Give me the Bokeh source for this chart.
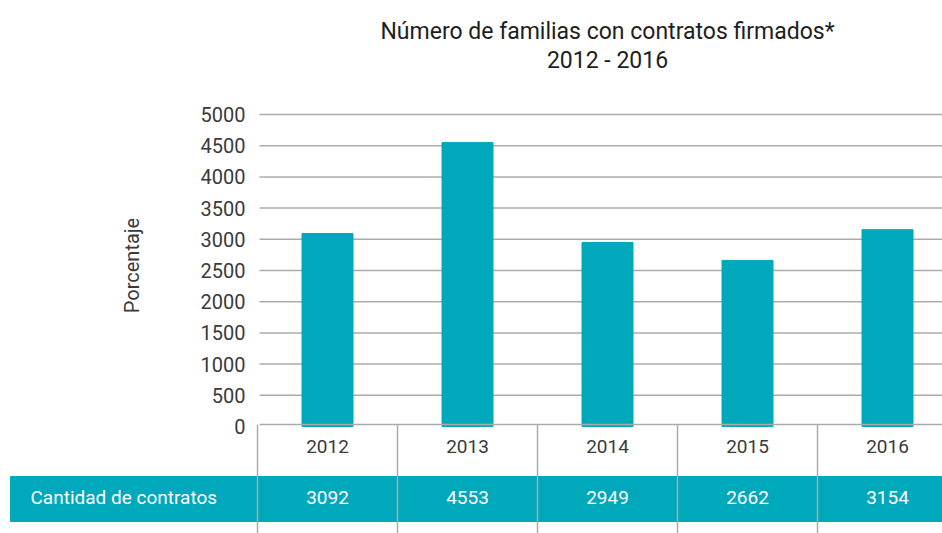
import math
from bokeh.plotting import figure
from bokeh.models import Range1d
from bokeh.core.properties import value
from bokeh.embed import file_html
from bokeh.resources import INLINE

# ---- data ----
years = ["2012", "2013", "2014", "2015", "2016"]
contratos = [3092, 4553, 2949, 2662, 3154]
y_ticks = [0, 500, 1000, 1500, 2000, 2500, 3000, 3500, 4000, 4500, 5000]
title_lines = ["Número de familias con contratos firmados*", "2012 - 2016"]
y_label = "Porcentaje"
row_label = "Cantidad de contratos"

# ---- layout helpers ----
W, H = 942, 533
TEAL = "#00A8BB"
GRID = "#ABABAB"
TXT = "#3A3A3A"
FONT = value("Roboto")

X0_PX, STEP_PX = 327.0, 140.0  # pixel of first category, pixels per category
def px_x(p):
    return (p - X0_PX) / STEP_PX

ZERO_PX, PX_PER_UNIT = 426.0, 0.0624
y_top = ZERO_PX / PX_PER_UNIT
y_bot = -(H - ZERO_PX) / PX_PER_UNIT

x_start, x_end = px_x(0), px_x(W)

p = figure(width=W, height=H, output_backend="svg", toolbar_location=None,
           x_range=Range1d(x_start, x_end), y_range=Range1d(y_bot, y_top),
           min_border=0, outline_line_color=None)
p.extra_y_ranges = {"px": Range1d(start=H, end=0)}
p.xaxis.visible = False
p.yaxis.visible = False
p.xgrid.visible = False
p.ygrid.visible = False
p.background_fill_color = "white"
p.border_fill_color = "white"

xs = list(range(len(years)))

# gridlines
gl = y_ticks[1:]
p.segment(x0=[px_x(259)] * len(gl), x1=[x_end] * len(gl), y0=gl, y1=gl,
          line_color=GRID, line_width=1.5)

# bars
p.vbar(x=xs, top=contratos, bottom=0, width=51 / STEP_PX, color=TEAL)

# y tick labels
p.text(x=[px_x(245)] * len(y_ticks), y=y_ticks, text=[str(t) for t in y_ticks],
       text_align="right", text_baseline="middle", text_font=FONT,
       text_font_size="20px", text_color=TXT)

# y axis label
p.text(x=[px_x(131)], y=[265], text=[y_label], angle=math.pi / 2,
       text_align="center", text_baseline="middle", text_font=FONT,
       text_font_size="20px", text_color=TXT, y_range_name="px")

# title
p.text(x=[px_x(607)] * 2, y=[31, 60], text=title_lines, text_align="center",
       text_baseline="middle", text_font=FONT, text_font_size="23px",
       text_color="#1E1E1E", y_range_name="px")

# table band
p.quad(left=[px_x(10)], right=[x_end], top=[476], bottom=[521], color=TEAL,
       y_range_name="px")

# table top line
p.segment(x0=[px_x(259)], x1=[x_end], y0=[424], y1=[424], line_color=GRID,
          line_width=1.5, y_range_name="px")

# column separators
seps = [i - 0.5 for i in xs]
p.segment(x0=seps, x1=seps, y0=[424] * len(seps), y1=[H] * len(seps),
          line_color=GRID, line_width=1.5, y_range_name="px")

# year labels
p.text(x=xs, y=[446] * len(xs), text=years, text_align="center",
       text_baseline="middle", text_font=FONT, text_font_size="19px",
       text_color=TXT, y_range_name="px")

# value labels in band
p.text(x=xs, y=[497] * len(xs), text=[str(v) for v in contratos],
       text_align="center", text_baseline="middle", text_font=FONT,
       text_font_size="19px", text_color="white", y_range_name="px")

p.text(x=[px_x(30)], y=[497], text=[row_label], text_align="left",
       text_baseline="middle", text_font=FONT, text_font_size="19px",
       text_color="white", y_range_name="px")

open("out.html", "w").write(file_html(p, INLINE))
